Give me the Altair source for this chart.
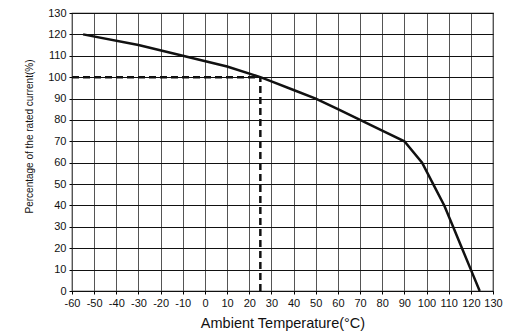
import altair as alt
import pandas as pd

# Derating curve
temp = [-55, -30, -10, 10, 25, 30, 40, 50, 60, 70, 80, 90, 98, 103, 108, 112, 116, 120, 124]
pct = [120, 115, 110, 105, 100, 98, 94, 90, 85, 80, 75, 70, 60, 50, 40, 30, 20, 10, 0]

# Dashed reference lines (rated point at 25 °C / 100 %)
ref_x1 = [-60, 25]
ref_x2 = [25, 25]
ref_y1 = [100, 0]
ref_y2 = [100, 100]

x_ticks = list(range(-60, 131, 10))
y_ticks = list(range(0, 131, 10))

curve = pd.DataFrame({"t": temp, "p": pct})
refs = pd.DataFrame({"x": ref_x1, "x2": ref_x2, "y": ref_y1, "y2": ref_y2})

FONT = "Liberation Sans"

xscale = alt.Scale(domain=[-60, 130], nice=False, zero=False)
yscale = alt.Scale(domain=[0, 130], nice=False)

xaxis = alt.Axis(values=x_ticks, title="Ambient Temperature(°C)", grid=True,
                 gridColor="#555555", gridWidth=1, gridOpacity=1,
                 domain=False, tickColor="#000000", tickSize=3,
                 labelFont=FONT, labelFontSize=11, labelColor="#111111",
                 labelPadding=3, labelFlush=False, labelOverlap=False,
                 labelExpr="'' + datum.value",
                 titleFont=FONT, titleFontSize=14.5, titleFontWeight="normal",
                 titleColor="#111111", titleBaseline="top", titleY=25)
yaxis = alt.Axis(values=y_ticks, title="Percentage of the rated current(%)", grid=True,
                 gridColor="#111111", gridWidth=1, gridOpacity=1,
                 domain=False, tickColor="#000000", tickSize=3,
                 labelFont=FONT, labelFontSize=11, labelColor="#111111",
                 labelPadding=3, labelFlush=False, labelOverlap=False,
                 labelExpr="'' + datum.value",
                 titleFont=FONT, titleFontSize=10, titleFontWeight="normal",
                 titleColor="#111111", titleX=-38, titleY=123, titleAngle=-90,
                 titleBaseline="bottom")

line = alt.Chart(curve).mark_line(color="#111111", strokeWidth=2.5).encode(
    x=alt.X("t:Q", scale=xscale, axis=xaxis),
    y=alt.Y("p:Q", scale=yscale, axis=yaxis),
    order="t:Q",
)

dash = alt.Chart(refs).mark_rule(color="#111111", strokeWidth=2.5, strokeDash=[7, 4]).encode(
    x=alt.X("x:Q", scale=xscale, axis=xaxis),
    x2="x2:Q",
    y=alt.Y("y:Q", scale=yscale, axis=yaxis),
    y2="y2:Q",
)

chart = alt.layer(line, dash).properties(
    width=421, height=278,
    autosize=alt.AutoSizeParams(type="none"),
    padding={"left": 64, "top": 5, "right": 15, "bottom": 40},
    background="white",
).configure_view(stroke="#111111", strokeWidth=1.2)

chart.save("out.html", embed_options={"renderer": "svg", "actions": False})
